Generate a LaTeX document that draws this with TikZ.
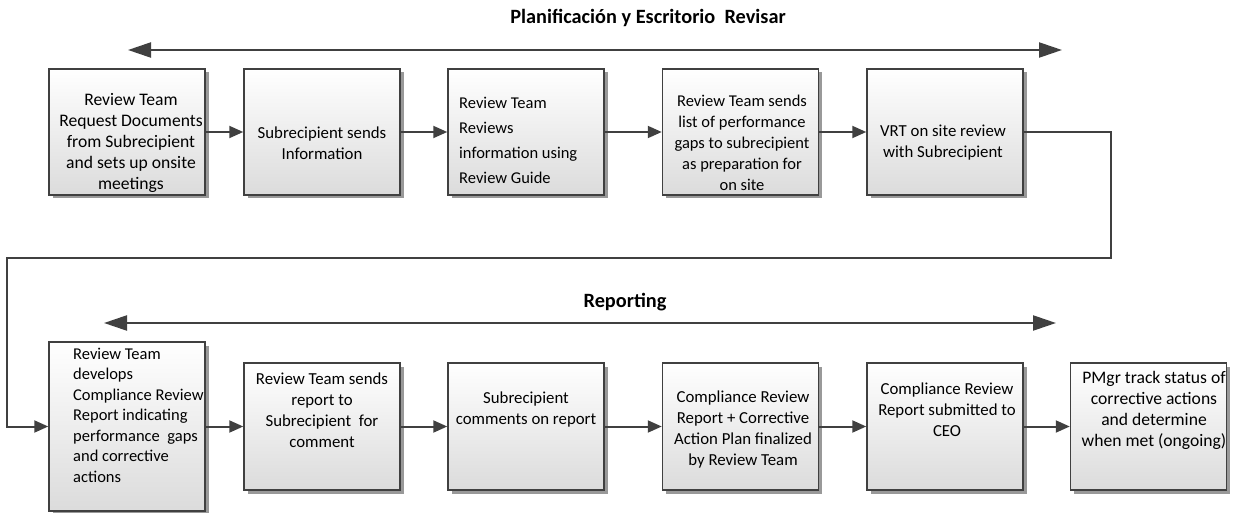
\documentclass[tikz,border=0pt]{standalone}
\usepackage{fontspec}
\setmainfont{Carlito}
\usetikzlibrary{arrows.meta,shadows}
\definecolor{lc}{HTML}{404040}
\tikzset{
 box/.style={draw=lc, line width=1.5pt, top color=white, bottom color=black!14, minimum width=156pt, minimum height=126pt, inner sep=0pt, drop shadow={shadow xshift=3.5pt, shadow yshift=-3.5pt, fill=black!50, opacity=0.8}},
 txt/.style={font=\fontsize{16.8}{21}\selectfont, align=center, inner sep=0pt},
 bigtxt/.style={txt, font=\fontsize{17.6}{21}\selectfont},
 ltxt/.style={txt, align=left},
 flow/.style={draw=lc, line width=2pt, -{Triangle[length=14pt,width=12pt]}},
 span/.style={draw=lc, line width=2.2pt, {Triangle[length=23pt,width=15pt]}-{Triangle[length=23pt,width=15pt]}},
 ttl/.style={font=\bfseries\fontsize{20.3}{24}\selectfont, inner sep=0pt}
}
\begin{document}
\begin{tikzpicture}[x=1pt,y=-1pt]
\useasboundingbox (0,0) rectangle (1236,513);
\fill[white] (0,0) rectangle (1236,513);
% titles and span arrows
\node[ttl] (title1) at (648,18) {Planificación y Escritorio\ \ Revisar};
\coordinate (s1l) at (128,50);
\coordinate (s1r) at (1062,50);
\draw[span] (s1l) -- (s1r);
\node[ttl] (title2) at (625,302) {Reporting};
\coordinate (s2l) at (104,323);
\coordinate (s2r) at (1056,323);
\draw[span] (s2l) -- (s2r);
% top row
\node[box] (b1) at (127,132) {};
\node[box] (b2) at (322,132) {};
\node[box] (b3) at (526,132) {};
\node[box] (b4) at (740.5,132) {};
\node[box] (b5) at (945,132) {};
\node[bigtxt] (t1) at (131,143) {Review Team\\Request Documents\\from Subrecipient\\and sets up onsite\\meetings};
\node[txt] (t2) at (322,143) {Subrecipient sends\\Information};
\node[ltxt, font=\fontsize{16.5}{25}\selectfont, anchor=west] (t3) at (459,140) {Review Team\\Reviews\\information using\\Review Guide};
\node[txt, font=\fontsize{16.5}{21}\selectfont] (t4) at (742,143) {Review Team sends\\list of performance\\gaps to subrecipient\\as preparation for\\on site};
\node[txt] (t5) at (943,143) {VRT on site review\\with Subrecipient};
% bottom row
\node[box, minimum height=169pt] (b6) at (127,426.5) {};
\node[box, minimum height=127pt] (b7) at (322,426.5) {};
\node[box, minimum height=127pt] (b8) at (526,426.5) {};
\node[box, minimum height=127pt] (b9) at (740.5,426.5) {};
\node[box, minimum height=127pt] (b10) at (945,426.5) {};
\node[box, minimum height=127pt] (b11) at (1148.5,426.5) {};
\node[ltxt, font=\fontsize{16.5}{20.5}\selectfont, anchor=west] (t6) at (73,415) {Review Team\\develops\\Compliance Review\\Report indicating\\performance\ \ gaps\\and corrective\\actions};
\node[txt] (t7) at (322,410) {Review Team sends\\report to\\Subrecipient\ \ for\\comment};
\node[txt] (t8) at (526,410) {Subrecipient\\comments on report};
\node[txt] (t9) at (743,430) {Compliance Review\\Report + Corrective\\Action Plan finalized\\by Review Team};
\node[txt] (t10) at (947,410) {Compliance Review\\Report submitted to\\CEO};
\node[bigtxt] (t11) at (1154,410) {PMgr track status of\\corrective actions\\and determine\\when met (ongoing)};
% connectors
\draw[flow] (b1.east) -- (b2.west);
\draw[flow] (b2.east) -- (b3.west);
\draw[flow] (b3.east) -- (b4.west);
\draw[flow] (b4.east) -- (b5.west);
\coordinate (lr1) at (1111,132);
\coordinate (lr2) at (1111,258);
\coordinate (ll1) at (6.5,258);
\coordinate (ll2) at (6.5,426.5);
\draw[flow] (b5.east) -- (lr1) -- (lr2) -- (ll1) -- (ll2) -- (b6.west);
\draw[flow] (b6.east) -- (b7.west);
\draw[flow] (b7.east) -- (b8.west);
\draw[flow] (b8.east) -- (b9.west);
\draw[flow] (b9.east) -- (b10.west);
\draw[flow] (b10.east) -- (b11.west);
\end{tikzpicture}
\end{document}
